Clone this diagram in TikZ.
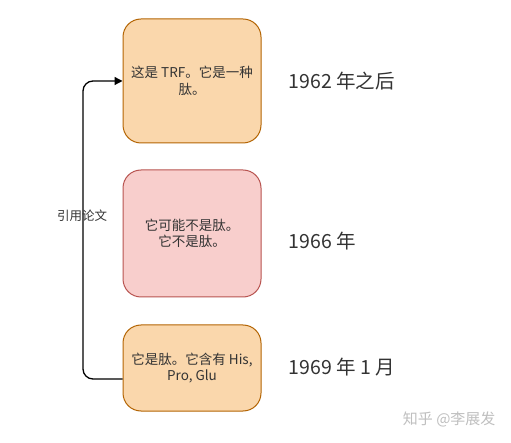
\documentclass[tikz,border=0pt]{standalone}
\usepackage{fontspec}
\setmainfont{Noto Sans CJK SC}
\usetikzlibrary{arrows.meta}
\definecolor{orfill}{HTML}{FAD7AC}
\definecolor{ordraw}{HTML}{B46504}
\definecolor{rdfill}{HTML}{F8CECC}
\definecolor{rddraw}{HTML}{B85450}
\definecolor{txt}{HTML}{333333}
\tikzset{
  box/.style={rectangle, rounded corners=18pt, minimum width=138pt, minimum height=#1, line width=1pt, align=center, font=\fontsize{13.5}{16.5}\selectfont, text=txt, inner sep=2pt},
  orbox/.style={box=#1, fill=orfill, draw=ordraw},
  rdbox/.style={box=#1, fill=rdfill, draw=rddraw},
  year/.style={anchor=west, font=\fontsize{19.5}{23}\selectfont, text=txt},
  link/.style={line width=1.3pt, rounded corners=10pt, -{Triangle[length=8pt,width=8pt]}},
}
\begin{document}
\begin{tikzpicture}[x=1pt,y=-1pt]
\useasboundingbox[fill=white] (0,0) rectangle (511,443);
\node[orbox=124pt] (b1) at (192,81) {这是 TRF。它是一种\\肽。};
\node[rdbox=127pt] (b2) at (192,233.5) {它可能不是肽。\\它不是肽。};
\node[orbox=86pt] (b3) at (192,368) {它是肽。它含有 His,\\Pro, Glu};
\node[year] (y1) at (285,81) {1962 年之后};
\node[year] (y2) at (285,241) {1966 年};
\node[year] (y3) at (285,367) {1969 年 1 月};
\coordinate (s) at ([yshift=-11pt]b3.west);
\draw[link] (s) -| (83,200) |- (b1.west);
\node[font=\fontsize{12.5}{14}\selectfont, text=txt] (lab) at (82,216) {引用论文};
\node[anchor=east, font=\fontsize{15}{18}\selectfont, text=black!25] (wm) at (499,419) {知乎 @李展发};
\end{tikzpicture}
\end{document}
